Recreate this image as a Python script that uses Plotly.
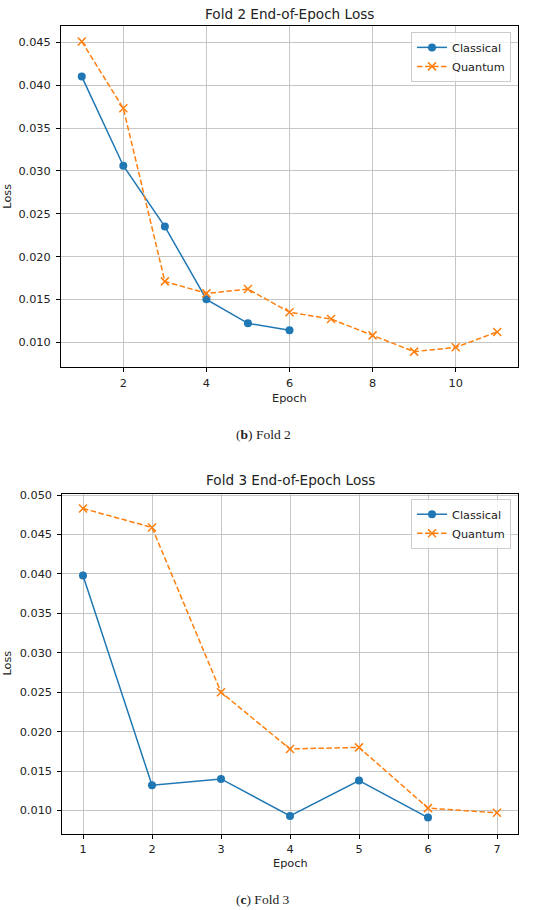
import plotly.graph_objects as go
from plotly.subplots import make_subplots

# fold 2 data
epochs_f2_classical = [1, 2, 3, 4, 5, 6]
loss_f2_classical = [0.0410, 0.0306, 0.0235, 0.0150, 0.0122, 0.0114]
epochs_f2_quantum = [1, 2, 3, 4, 5, 6, 7, 8, 9, 10, 11]
loss_f2_quantum = [0.0451, 0.0373, 0.0171, 0.0157, 0.0162, 0.0135, 0.0127, 0.0108, 0.0089, 0.0094, 0.0112]

# fold 3 data
epochs_f3_classical = [1, 2, 3, 4, 5, 6]
loss_f3_classical = [0.0398, 0.0132, 0.0140, 0.0093, 0.0138, 0.0091]
epochs_f3_quantum = [1, 2, 3, 4, 5, 6, 7]
loss_f3_quantum = [0.0483, 0.0459, 0.0250, 0.0178, 0.0180, 0.0103, 0.0097]

titles = ["Fold 2 End-of-Epoch Loss", "Fold 3 End-of-Epoch Loss"]
captions = ["(<b>b</b>) Fold 2", "(<b>c</b>) Fold 3"]

W, H = 550, 910
BLUE = "#1f77b4"
ORANGE = "#ff7f0e"
SANS = "DejaVu Sans"
TXT = "#222222"


def px_x(p):
    return p / W


def px_y(p):
    # pixel from top -> paper coordinate
    return 1 - p / H


fig = make_subplots(rows=2, cols=1)

panels = [
    (epochs_f2_classical, loss_f2_classical, epochs_f2_quantum, loss_f2_quantum, 1),
    (epochs_f3_classical, loss_f3_classical, epochs_f3_quantum, loss_f3_quantum, 2),
]

for ec, lc, eq, lq, r in panels:
    leg = "legend" if r == 1 else "legend2"
    fig.add_trace(go.Scatter(x=ec, y=lc, name="Classical", mode="lines+markers",
                             line=dict(color=BLUE, width=1.5),
                             marker=dict(symbol="circle", size=8, color=BLUE),
                             legend=leg), row=r, col=1)
    fig.add_trace(go.Scatter(x=eq, y=lq, name="Quantum", mode="lines+markers",
                             line=dict(color=ORANGE, width=1.5, dash="5.5px,2.5px"),
                             marker=dict(symbol="x-thin", size=8, color=ORANGE,
                                         line=dict(color=ORANGE, width=1.5)),
                             legend=leg), row=r, col=1)

axis_common = dict(showline=True, linecolor="black", linewidth=1, mirror=True,
                   ticks="outside", ticklen=4, tickcolor="black",
                   showgrid=True, gridcolor="#c6c6c6", gridwidth=1,
                   zeroline=False, tickfont=dict(family=SANS, size=11.3, color=TXT))

# plot areas (pixels measured on reference)
fig.update_xaxes(axis_common, ticklabelstandoff=1)
fig.update_yaxes(axis_common, ticklabelstandoff=3)
fig.update_layout(
    xaxis=dict(domain=[px_x(61), px_x(518)], range=[0.5, 11.5], tick0=0, dtick=2),
    yaxis=dict(domain=[px_y(365), px_y(22)], range=[0.00706, 0.04692],
               tick0=0, dtick=0.005, tickformat=".3f"),
    xaxis2=dict(domain=[px_x(62.3), px_x(517.7)], range=[0.7, 7.3], tick0=0, dtick=1),
    yaxis2=dict(domain=[px_y(833.3), px_y(491.7)], range=[0.00706, 0.0502],
                tick0=0, dtick=0.005, tickformat=".3f"),
)

leg_style = dict(xanchor="right", yanchor="top", bgcolor="rgba(255,255,255,0.8)",
                 bordercolor="#cccccc", borderwidth=1,
                 font=dict(family=SANS, size=11.3, color=TXT),
                 tracegroupgap=0, itemwidth=30)
fig.update_layout(
    legend=dict(leg_style, x=px_x(511), y=px_y(28)),
    legend2=dict(leg_style, x=px_x(511), y=px_y(497)),
)

# titles, axis labels, captions
ann = []
for i, (t_y, mid_y, ep_y, cap_y, cx) in enumerate([(10, 193.5, 396, 432, 289.5),
                                                  (478, 662.5, 863, 899, 290)]):
    common = dict(xref="paper", yref="paper", xanchor="center", yanchor="middle",
                  showarrow=False)
    ann.append(dict(common, text=titles[i], x=px_x(cx), y=px_y(t_y),
                    font=dict(family=SANS, size=13.6, color=TXT)))
    ann.append(dict(common, text="Loss", x=px_x(8), y=px_y(mid_y), textangle=-90,
                    font=dict(family=SANS, size=11.3, color=TXT)))
    ann.append(dict(common, text="Epoch", x=px_x(cx), y=px_y(ep_y),
                    font=dict(family=SANS, size=11.3, color=TXT)))
    ann.append(dict(common, text=captions[i], x=px_x(263), y=px_y(cap_y),
                    font=dict(family="Liberation Serif", size=13.5, color=TXT)))

fig.update_layout(annotations=ann, width=W, height=H,
                  margin=dict(l=0, r=0, t=0, b=0),
                  paper_bgcolor="white", plot_bgcolor="white")

# pin the figure to the window's top-left corner
pin = ("document.documentElement.style.overflow='hidden';"
       "document.body.style.margin='0';"
       "var d=document.getElementById('{plot_id}');"
       "d.style.position='fixed';d.style.top='0';d.style.left='0';")
fig.write_html("out.html", post_script=pin, config={"displayModeBar": False})
